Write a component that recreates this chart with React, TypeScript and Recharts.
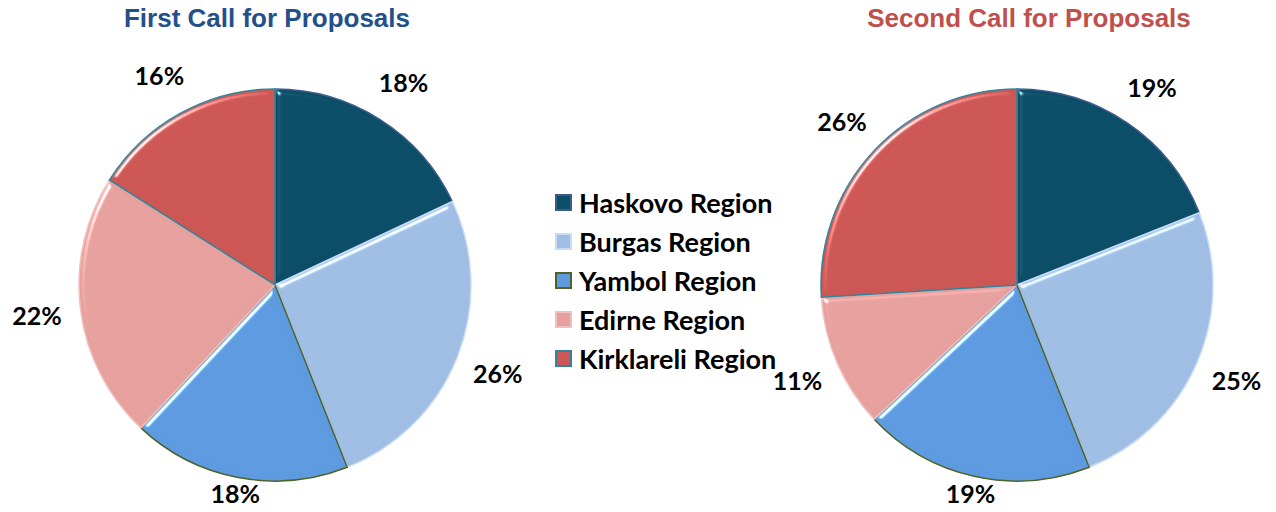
import { PieChart, Pie, Cell, Legend } from "recharts";

const regions = [
  "Haskovo Region",
  "Burgas Region",
  "Yambol Region",
  "Edirne Region",
  "Kirklareli Region",
];
const firstCall = [18, 26, 18, 22, 16];
const secondCall = [19, 25, 19, 11, 26];

const fills = ["#0c4d67", "#a0bde3", "#5d9ae0", "#e6a19f", "#cd5755"];
const strokes = ["#3d5c8c", "#c8dcf5", "#4f6228", "#f0c0be", "#31849b"];

const firstData = regions.map((name, i) => ({ name, value: firstCall[i] }));
const secondData = regions.map((name, i) => ({ name, value: secondCall[i] }));

const RAD = Math.PI / 180;

// labels sit ~44px off the rim, a bit closer under the pie
function renderLabel(props: any) {
  const { cx, cy, midAngle, outerRadius, value } = props;
  const ux = Math.cos(-midAngle * RAD);
  const uy = Math.sin(-midAngle * RAD);
  const r = outerRadius + 44 - 30 * Math.pow(Math.max(0, uy), 4);
  const x = cx + r * ux;
  const y = cy + r * uy;
  return (
    <text
      x={x}
      y={y}
      textAnchor="middle"
      dominantBaseline="central"
      fill="#000"
      style={{ fontFamily: "Lato", fontWeight: 700, fontSize: 25 }}
    >
      {value}%
    </text>
  );
}

function LegendBox() {
  return (
    <div style={{ fontFamily: "Lato", fontWeight: 700, fontSize: 27, color: "#000" }}>
      {regions.map((name, i) => (
        <div
          key={name}
          style={{ display: "flex", alignItems: "center", height: 39 }}
        >
          <span
            style={{
              display: "inline-block",
              width: 13,
              height: 13,
              background: fills[i],
              border: `2px solid ${strokes[i]}`,
              marginRight: 7,
            }}
          />
          {name}
        </div>
      ))}
    </div>
  );
}

const titleStyle = {
  position: "absolute" as const,
  top: 3,
  fontFamily: "'Liberation Sans', Arial, sans-serif",
  fontWeight: 700,
  fontSize: 26,
  textAlign: "center" as const,
  width: 440,
};

export default function App() {
  return (
    <div
      style={{
        position: "absolute",
        left: 0,
        top: 0,
        width: 1276,
        height: 512,
        background: "#fff",
      }}
    >
      <svg width={0} height={0} style={{ position: "absolute" }}>
        <defs>
          <filter
            id="bevel"
            x="-5%"
            y="-5%"
            width="110%"
            height="110%"
            colorInterpolationFilters="sRGB"
          >
            <feGaussianBlur in="SourceAlpha" stdDeviation="3" result="blur" />
            <feSpecularLighting
              in="blur"
              surfaceScale="4"
              specularConstant="0.8"
              specularExponent="60"
              lightingColor="#ffffff"
              result="spec"
            >
              <feDistantLight azimuth="225" elevation="40" />
            </feSpecularLighting>
            <feComposite in="spec" in2="SourceAlpha" operator="in" result="specOut" />
            <feComposite
              in="SourceGraphic"
              in2="specOut"
              operator="arithmetic"
              k1="0"
              k2="1"
              k3="1"
              k4="0"
            />
          </filter>
        </defs>
      </svg>
      <div style={{ ...titleStyle, left: 47, color: "#24508a" }}>
        First Call for Proposals
      </div>
      <div style={{ ...titleStyle, left: 809, color: "#c0504d" }}>
        Second Call for Proposals
      </div>
      <PieChart width={1276} height={512} margin={{ top: 0, right: 0, bottom: 0, left: 0 }}>
        <Pie
          data={firstData}
          dataKey="value"
          nameKey="name"
          cx={275}
          cy={285}
          outerRadius={196}
          startAngle={90}
          endAngle={-270}
          label={renderLabel}
          labelLine={false}
          isAnimationActive={false}
        >
          {firstData.map((d, i) => (
            <Cell
              key={d.name}
              fill={fills[i]}
              stroke={strokes[i]}
              strokeWidth={1.5}
              filter="url(#bevel)"
            />
          ))}
        </Pie>
        <Pie
          data={secondData}
          dataKey="value"
          nameKey="name"
          cx={1017}
          cy={285}
          outerRadius={196}
          startAngle={90}
          endAngle={-270}
          label={renderLabel}
          labelLine={false}
          isAnimationActive={false}
        >
          {secondData.map((d, i) => (
            <Cell
              key={d.name}
              fill={fills[i]}
              stroke={strokes[i]}
              strokeWidth={1.5}
              filter="url(#bevel)"
            />
          ))}
        </Pie>
        <Legend
          layout="vertical"
          content={<LegendBox />}
          wrapperStyle={{ position: "absolute", left: 555, top: 183, width: 260 }}
        />
      </PieChart>
    </div>
  );
}
